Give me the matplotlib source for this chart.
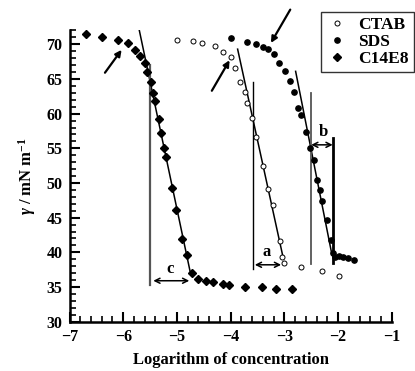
import matplotlib
matplotlib.use("Agg")
import matplotlib.pyplot as plt
from matplotlib.ticker import MultipleLocator

plt.rcParams['font.family'] = ['Liberation Serif', 'DejaVu Serif']
plt.rcParams['font.weight'] = 'bold'
plt.rcParams['mathtext.fontset'] = 'custom'
plt.rcParams['mathtext.rm'] = 'Liberation Serif:bold'
plt.rcParams['mathtext.it'] = 'Liberation Serif:italic:bold'
plt.rcParams['mathtext.bf'] = 'Liberation Serif:bold'

# ---- data ----
c14e8_x = [-6.69, -6.39, -6.09, -5.92, -5.78, -5.68, -5.59, -5.55, -5.49, -5.44,
           -5.40, -5.34, -5.30, -5.25, -5.20, -5.10, -5.01, -4.91, -4.82, -4.72,
           -4.61, -4.45, -4.33, -4.15, -4.03, -3.73, -3.42, -3.15, -2.85]
c14e8_y = [71.5, 71.0, 70.65, 70.2, 69.2, 68.3, 67.3, 66.0, 64.5, 63.0,
           61.8, 59.2, 57.2, 55.1, 53.7, 49.25, 46.1, 41.9, 39.55, 37.0,
           36.2, 35.8, 35.7, 35.45, 35.35, 35.05, 34.95, 34.75, 34.75]

ctab_x = [-5.00, -4.71, -4.53, -4.30, -4.15, -4.00, -3.92, -3.82, -3.74, -3.69,
          -3.60, -3.52, -3.40, -3.30, -3.22, -3.09, -3.04, -3.00, -2.69, -2.29, -1.99]
ctab_y = [70.65, 70.5, 70.2, 69.75, 68.9, 68.1, 66.6, 64.5, 63.1, 61.5,
          59.4, 56.6, 52.5, 49.1, 46.8, 41.7, 39.35, 38.45, 37.9, 37.25, 36.65]

sds_x = [-3.99, -3.69, -3.53, -3.40, -3.30, -3.20, -3.10, -2.99, -2.90, -2.82,
         -2.75, -2.69, -2.60, -2.52, -2.45, -2.39, -2.34, -2.29, -2.21, -2.14,
         -2.10, -2.06, -1.99, -1.91, -1.81, -1.70]
sds_y = [70.85, 70.4, 70.0, 69.65, 69.25, 68.6, 67.35, 66.2, 64.75, 63.15,
         60.8, 59.8, 57.3, 55.0, 53.3, 50.4, 49.0, 47.4, 44.6, 41.8,
         39.9, 39.35, 39.4, 39.3, 39.2, 38.9]

# fitted lines (x0, y0, x1, y1)
fit_c14e8 = [-5.70, 72.0, -4.74, 36.7]
fit_ctab = [-3.87, 69.3, -3.02, 39.15]
fit_sds = [-2.79, 66.1, -2.12, 39.9]

fig = plt.figure(figsize=(4.15, 3.71), dpi=100)
ax = fig.add_axes([0.1675, 0.133, 0.7765, 0.785])

ax.plot(ctab_x, ctab_y, 'o', mfc='white', mec='black', mew=0.7, ms=3.6,
        ls='none', label='CTAB', zorder=3)
ax.plot(sds_x, sds_y, 'o', color='black', ms=3.8, ls='none', label='SDS', zorder=3)
ax.plot(c14e8_x, c14e8_y, 'D', color='black', ms=3.8, ls='none', label='C14E8', zorder=3)

for f in (fit_c14e8, fit_ctab, fit_sds):
    ax.plot([f[0], f[2]], [f[1], f[3]], color='black', lw=1.1, zorder=2)

# vertical lines
ax.plot([-5.50, -5.50], [35.3, 67.0], color='#555555', lw=1.6)
ax.plot([-3.59, -3.59], [37.6, 64.5], color='black', lw=1.0)
ax.plot([-2.50, -2.50], [38.3, 63.0], color='#555555', lw=1.3)
ax.plot([-2.10, -2.10], [38.4, 56.5], color='black', lw=2.0)

# double arrows with labels
def dbl(x0, x1, y, lab, lx, ly):
    ax.annotate('', xy=(x1, y), xytext=(x0, y),
                arrowprops=dict(arrowstyle='<->', color='black', lw=1.1,
                                shrinkA=0, shrinkB=0, mutation_scale=9))
    ax.text(lx, ly, lab, ha='center', va='center', fontsize=12, fontweight='bold')

dbl(-5.44, -4.77, 35.9, 'c', -5.12, 37.6)
dbl(-3.55, -3.06, 38.2, 'a', -3.33, 40.1)
dbl(-2.50, -2.10, 55.5, 'b', -2.27, 57.3)

# pointing arrows
def parrow(xt, yt, xh, yh):
    ax.annotate('', xy=(xh, yh), xytext=(xt, yt), annotation_clip=False,
                arrowprops=dict(arrowstyle='-|>', color='black', lw=1.6,
                                shrinkA=0, shrinkB=0, mutation_scale=9))

parrow(-6.34, 65.9, -6.03, 69.2)
parrow(-4.35, 63.3, -4.02, 67.7)
parrow(-2.89, 75.0, -3.25, 70.2)

ax.set_xlim(-7, -1)
ax.set_ylim(30, 72)
ax.xaxis.set_major_locator(MultipleLocator(1))
ax.xaxis.set_minor_locator(MultipleLocator(0.2))
ax.yaxis.set_major_locator(MultipleLocator(5))
ax.yaxis.set_minor_locator(MultipleLocator(1))
ax.spines['top'].set_visible(False)
ax.spines['right'].set_visible(False)
ax.spines['left'].set_linewidth(1.8)
ax.spines['bottom'].set_linewidth(1.8)
ax.tick_params(which='major', direction='in', length=7, width=1.5, labelsize=11.5, pad=5)
ax.tick_params(which='minor', direction='in', length=4, width=1.2)
for lab in ax.get_xticklabels() + ax.get_yticklabels():
    lab.set_fontweight('bold')

ax.set_xlabel('Logarithm of concentration', fontsize=12, fontweight='bold', labelpad=5)
ax.set_ylabel(r'$\it{\gamma}$ / mN m$^{-1}$', fontsize=12, fontweight='bold', labelpad=6)

leg = ax.legend(loc='upper right', bbox_to_anchor=(0.997, 0.968),
                bbox_transform=fig.transFigure, frameon=True, fancybox=False,
                edgecolor='black', handletextpad=0.6, borderaxespad=0,
                borderpad=0.3, labelspacing=0.05, handlelength=1.2,
                prop={'weight': 'bold', 'size': 12.5})
leg.get_frame().set_linewidth(1.0)

fig.savefig('out.png', dpi=100)
